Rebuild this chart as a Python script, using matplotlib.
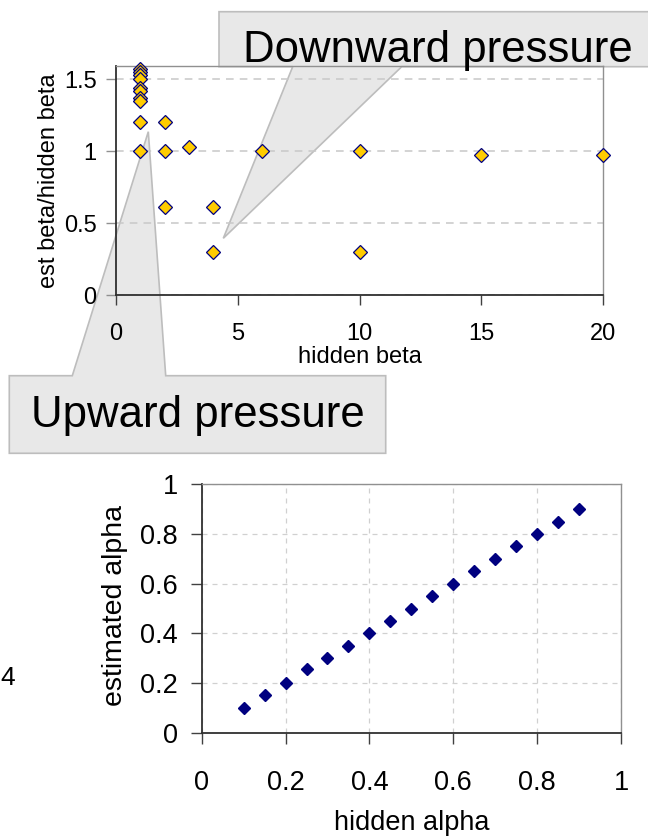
import numpy as np
import matplotlib.pyplot as plt
import matplotlib.transforms as mtransforms
from matplotlib.patches import Polygon

plt.rcParams['font.family'] = ['Liberation Sans', 'DejaVu Sans']

# top chart: ratio of estimated to hidden beta
hidden_beta = [1, 1, 1, 1, 1, 1, 1, 1, 1, 1,
               2, 2, 2, 3, 4, 4, 6, 10, 10, 15, 20]
beta_ratio = [1.57, 1.55, 1.53, 1.50, 1.44, 1.42, 1.37, 1.35, 1.20, 1.00,
              1.20, 1.00, 0.61, 1.03, 0.61, 0.30, 1.00, 1.00, 0.30, 0.97, 0.97]

# bottom chart: estimated vs hidden alpha
hidden_alpha = [0.10, 0.15, 0.20, 0.25, 0.30, 0.35, 0.40, 0.45, 0.50,
                0.55, 0.60, 0.65, 0.70, 0.75, 0.80, 0.85, 0.90]
est_alpha = [0.10, 0.15, 0.20, 0.255, 0.30, 0.35, 0.40, 0.45, 0.50,
             0.55, 0.60, 0.65, 0.70, 0.75, 0.80, 0.85, 0.90]

W, H = 648, 836
fig = plt.figure(figsize=(W / 100, H / 100), dpi=100)

def px_axes(l, t, r, b):
    return fig.add_axes([l / W, 1 - b / H, (r - l) / W, (b - t) / H])

# pixel coords with origin top-left
pix = mtransforms.Affine2D().scale(1 / W, -1 / H).translate(0, 1) + fig.transFigure

# ---------- top chart ----------
ax1 = px_axes(116, 65.7, 603, 295)
ax1.plot(hidden_beta, beta_ratio, linestyle='none', marker='D', markersize=7,
         markerfacecolor='#FFCC00', markeredgecolor='#000080', markeredgewidth=0.9,
         zorder=3, clip_on=False)
ax1.set_xlim(0, 20)
ax1.set_ylim(0, 1.594)
ax1.set_xticks([0, 5, 10, 15, 20])
ax1.set_yticks([0, 0.5, 1, 1.5])
ax1.set_yticklabels(['0', '0.5', '1', '1.5'])
ax1.yaxis.grid(True, linestyle=(0, (5, 4)), color='#c8c8c8', linewidth=1.1, zorder=1.5)
ax1.tick_params(axis='x', length=7, width=1, color='#404040', pad=13, labelsize=17)
ax1.tick_params(axis='y', length=7, width=1, color='#909090', pad=7, labelsize=17)
for s in ['left', 'bottom']:
    ax1.spines[s].set_color('#303030')
    ax1.spines[s].set_linewidth(1.3)
for s in ['top', 'right']:
    ax1.spines[s].set_color('#909090')
    ax1.spines[s].set_linewidth(1)
ax1.set_xlabel('hidden beta', fontsize=17, labelpad=1)
ax1.set_ylabel('est beta/hidden beta', fontsize=17, labelpad=3)

# callouts
down_shape = [(219, 11.7), (660, 11.7), (660, 66.7), (401.7, 66.7),
              (223.3, 238.3), (292.7, 66.7), (219, 66.7)]
up_shape = [(9.3, 375.7), (72.3, 375.7), (148.3, 131.7), (165.7, 375.7),
            (385.7, 375.7), (385.7, 453.3), (9.3, 453.3)]
for shape in [down_shape, up_shape]:
    ax1.add_patch(Polygon(shape, closed=True, transform=pix, facecolor='#e8e8e8',
                          edgecolor='#bdbdbd', linewidth=1.2, clip_on=False, zorder=1))
ax1.text(243, 61.7, 'Downward pressure', transform=pix, fontsize=31.5,
         ha='left', va='baseline', clip_on=False, zorder=4)
ax1.text(31, 426.7, 'Upward pressure', transform=pix, fontsize=31.5,
         ha='left', va='baseline', clip_on=False, zorder=4)

# ---------- bottom chart ----------
ax2 = px_axes(201.7, 484.3, 621, 732.7)
ax2.plot(hidden_alpha, est_alpha, linestyle='none', marker='D', markersize=6,
         color='#000080', zorder=3)
ax2.set_xlim(0, 1)
ax2.set_ylim(0, 1)
ax2.set_xticks([0, 0.2, 0.4, 0.6, 0.8, 1])
ax2.set_yticks([0, 0.2, 0.4, 0.6, 0.8, 1])
ax2.set_xticklabels(['0', '0.2', '0.4', '0.6', '0.8', '1'])
ax2.set_yticklabels(['0', '0.2', '0.4', '0.6', '0.8', '1'])
ax2.grid(True, linestyle=(0, (4, 4)), color='#d0d0d0', linewidth=0.9)
ax2.tick_params(axis='x', length=8, width=1, color='#404040', pad=19, labelsize=19.5)
ax2.tick_params(axis='y', length=8, width=1, color='#404040', pad=9, labelsize=19.5)
for s in ['left', 'bottom']:
    ax2.spines[s].set_color('#303030')
    ax2.spines[s].set_linewidth(1.3)
for s in ['top', 'right']:
    ax2.spines[s].set_color('#909090')
    ax2.spines[s].set_linewidth(1)
ax2.set_xlabel('hidden alpha', fontsize=19.5, labelpad=10)
ax2.set_ylabel('estimated alpha', fontsize=20.5)
ax2.yaxis.set_label_coords((128 - 201.7) / 419.3, (732.7 - 605) / 248.4)
# the original label runs out of its box at the top
ax2.yaxis.label.set_clip_box(
    mtransforms.TransformedBbox(mtransforms.Bbox.from_extents(0, 0, W, H - 503),
                                mtransforms.IdentityTransform()))

# stray tick label from a neighbouring chart
fig.text(0 / W, 1 - 678 / H, '4', fontsize=19, ha='left', va='center')

fig.savefig('out.png', dpi=100)
